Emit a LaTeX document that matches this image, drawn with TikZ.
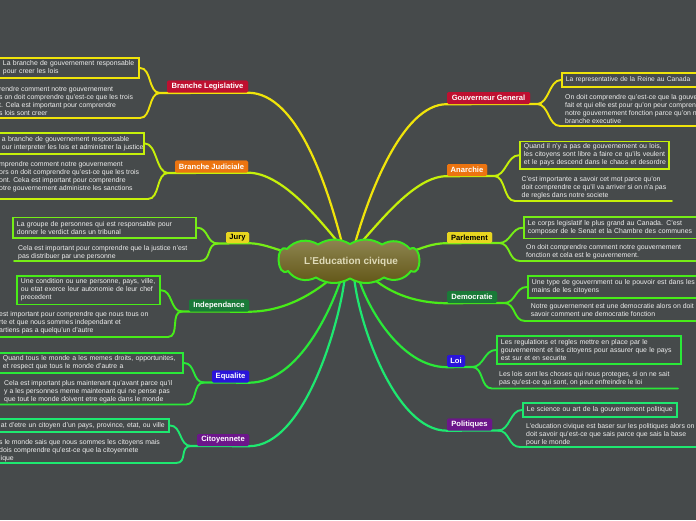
\documentclass[tikz,border=0pt]{standalone}
\usepackage{fontspec}
\setmainfont{Liberation Sans}
\definecolor{bgc}{RGB}{70,74,75}
\definecolor{txc}{RGB}{238,238,238}
\definecolor{cA}{RGB}{240,228,10}
\definecolor{cB}{RGB}{198,240,10}
\definecolor{cC}{RGB}{118,238,22}
\definecolor{cD}{RGB}{72,236,24}
\definecolor{cE}{RGB}{42,232,56}
\definecolor{cF}{RGB}{30,232,112}
\definecolor{fRed}{RGB}{190,16,48}
\definecolor{fOra}{RGB}{236,116,16}
\definecolor{fYel}{RGB}{232,214,32}
\definecolor{fGrn}{RGB}{26,122,56}
\definecolor{fBlu}{RGB}{42,20,218}
\definecolor{fPur}{RGB}{108,22,138}
\definecolor{cloudline}{RGB}{60,232,30}
\definecolor{cloudtop}{RGB}{142,134,82}
\definecolor{cloudbot}{RGB}{98,86,22}
\definecolor{cloudtxt}{RGB}{222,218,184}
\newcommand\lnx[1]{\mbox{#1}}
\tikzset{
  mainline/.style={line width=2.2pt, line cap=round},
  subline/.style={line width=1.9pt, line cap=round},
  lbl/.style={rounded corners=1.5pt, inner xsep=2pt, inner ysep=0pt,
    minimum height=12pt, text=white,
    font=\fontsize{7.6}{8}\selectfont\bfseries},
  sbox/.style={anchor=north west, draw=#1, line width=1.9pt, fill=bgc,
    inner xsep=4pt, inner ysep=0pt, align=left, text=txc,
    font=\fontsize{6.9}{8}\selectfont},
  note/.style={anchor=north west, inner sep=0pt, align=left, text=txc,
    font=\fontsize{6.9}{8}\selectfont},
  puff/.style={bend left=#1},
  sidepuff/.style={bend left=#1, looseness=1.6}
}
\begin{document}
\begin{tikzpicture}[x=1pt,y=-1pt]
\fill[bgc] (0,0) rectangle (696,520);
\useasboundingbox (0,0) rectangle (696,520);
\clip (0,0) rectangle (696,520);

% ---------- cloud anchor coordinates ----------
\coordinate (sBL) at (343,247);
\coordinate (sBJ) at (342,247);
\coordinate (sJu) at (286,252);
\coordinate (sIn) at (334,276);
\coordinate (sEq) at (342,276);
\coordinate (sCi) at (345,276);
\coordinate (sGG) at (354,247);
\coordinate (sAn) at (357,247);
\coordinate (sPa) at (410,252);
\coordinate (sDe) at (370,276);
\coordinate (sLo) at (358,276);
\coordinate (sPo) at (354,276);

% ---------- topic labels (positions) ----------
\path
 node[lbl, fill=fRed, minimum width=81pt] (bl) at (207.5,86.5) {Branche Legislative}
 node[lbl, fill=fOra, minimum width=73pt] (bj) at (211.5,166.5) {Branche Judiciale}
 node[lbl, fill=fYel, text=black, minimum width=23pt, minimum height=11pt] (ju) at (237.5,237.5) {Jury}
 node[lbl, fill=fGrn, minimum width=60pt] (in) at (219,305.5) {Independance}
 node[lbl, fill=fBlu, minimum width=37pt] (eq) at (230.5,376.5) {Equalite}
 node[lbl, fill=fPur, minimum width=52pt] (ci) at (223,440) {Citoyennete}
 node[lbl, fill=fRed, minimum width=83pt] (gg) at (488.5,98) {Gouverneur General}
 node[lbl, fill=fOra, minimum width=40pt] (an) at (467,170) {Anarchie}
 node[lbl, fill=fYel, text=black, minimum width=45pt, minimum height=11pt] (pa) at (469.5,237.5) {Parlement}
 node[lbl, fill=fGrn, minimum width=50pt] (de) at (472,297) {Democratie}
 node[lbl, fill=fBlu, minimum width=18pt] (lo) at (456,361) {Loi}
 node[lbl, fill=fPur, minimum width=45pt] (po) at (469.5,424.5) {Politiques};

% ---------- split points and underline ends ----------
\coordinate (kBL) at (160,93);    \coordinate (uBL) at (140,118);  \coordinate (fBL) at (-5,118);
\coordinate (kBJ) at (168,173);   \coordinate (uBJ) at (148,199);  \coordinate (fBJ) at (-5,199);
\coordinate (kJu) at (218,243.5); \coordinate (uJu) at (200,261);  \coordinate (fJu) at (14,261);
\coordinate (kIn) at (182,311.5); \coordinate (uIn) at (168,337);  \coordinate (fIn) at (-5,337);
\coordinate (kEq) at (204,382.5); \coordinate (uEq) at (186,404.5);\coordinate (fEq) at (-5,404.5);
\coordinate (kCi) at (191,446);   \coordinate (uCi) at (176,463);  \coordinate (fCi) at (-5,463);
\coordinate (kGG) at (537,104);   \coordinate (uGG) at (560,126);  \coordinate (fGG) at (705,126);
\coordinate (kAn) at (494,176);   \coordinate (uAn) at (515,201);  \coordinate (fAn) at (672,201);
\coordinate (kPa) at (499,243);   \coordinate (uPa) at (520,261);  \coordinate (fPa) at (705,261);
\coordinate (kDe) at (504,303);   \coordinate (uDe) at (525,321);  \coordinate (fDe) at (705,321);
\coordinate (kLo) at (472,367);   \coordinate (uLo) at (492,388.5);\coordinate (fLo) at (678,388.5);
\coordinate (kPo) at (498,430.5); \coordinate (uPo) at (520,447);  \coordinate (fPo) at (705,447);

% ---------- boxes ----------
\node[sbox=cA, minimum width=140pt, text width=132pt, minimum height=20pt] (bl1) at (-2,57)
  {\lnx{La branche de gouvernement responsable}\\\lnx{pour creer les lois}};
\node[sbox=cB, minimum width=146pt, text width=138pt, minimum height=21pt] (bj1) at (-3,132)
  {\lnx{a branche de gouvernement responsable}\\\lnx{our interpreter les lois et administrer la justice}};
\node[sbox=cC, minimum width=183pt, text width=175pt, minimum height=20.5pt] (ju1) at (12,216.5)
  {\lnx{La groupe de personnes qui est responsable pour}\\\lnx{donner le verdict dans un tribunal}};
\node[sbox=cD, minimum width=143pt, text width=135pt, minimum height=28.5pt] (in1) at (16,275)
  {\lnx{Une condition ou une personne, pays, ville,}\\\lnx{ou etat exerce leur autonomie de leur chef}\\\lnx{precedent}};
\node[sbox=cE, minimum width=184pt, text width=176pt, minimum height=20pt] (eq1) at (-2,352)
  {\lnx{Quand tous le monde a les memes droits, opportunites,}\\\lnx{et respect que tous le monde d'autre a}};
\node[sbox=cF, minimum width=172pt, text width=164pt, minimum height=13pt] (ci1) at (-4,418)
  {\lnx{at d'etre un citoyen d'un pays, province, etat, ou ville}};
\node[sbox=cA, minimum width=150pt, text width=142pt, minimum height=14pt,
  font=\fontsize{6.7}{8}\selectfont] (gg1) at (561,72)
  {\lnx{La representative de la Reine au Canada}};
\node[sbox=cB, minimum width=149pt, text width=141pt, minimum height=27.5pt] (an1) at (519,140.5)
  {\lnx{Quand il n'y a pas de gouvernement ou lois,}\\\lnx{les citoyens sont libre a faire ce qu'ils veulent}\\\lnx{et le pays descend dans le chaos et desordre}};
\node[sbox=cC, minimum width=173pt, text width=165pt, minimum height=21.5pt] (pa1) at (523,216)
  {\lnx{Le corps legislatif le plus grand au Canada. C'est}\\\lnx{composer de le Senat et la Chambre des communes}};
\node[sbox=cD, minimum width=180pt, text width=172pt, minimum height=22pt] (de1) at (527,275)
  {\lnx{Une type de gouvernment ou le pouvoir est dans les}\\\lnx{mains de les citoyens}};
\node[sbox=cE, minimum width=184pt, text width=176pt, minimum height=28pt] (lo1) at (496,335)
  {\lnx{Les regulations et regles mettre en place par le}\\\lnx{gouvernement et les citoyens pour assurer que le pays}\\\lnx{est sur et en securite}};
\node[sbox=cF, minimum width=154pt, text width=146pt, minimum height=14pt] (po1) at (522,402)
  {\lnx{Le science ou art de la gouvernement politique}};

% ---------- connectors ----------
\draw[mainline, cA] (kBL) -- (bl.south east) .. controls (298,93) and (328,188) .. (sBL);
\draw[mainline, cB] (kBJ) -- (bj.south east) .. controls (282,173) and (318,218) .. (sBJ);
\draw[mainline, cC] (kJu) -- (ju.south east) .. controls (262,243.5) and (272,248) .. (sJu);
\draw[mainline, cD] (kIn) -- (in.south east) .. controls (288,311.5) and (318,290) .. (sIn);
\draw[mainline, cE] (kEq) -- (eq.south east) .. controls (300,382.5) and (333,305) .. (sEq);
\draw[mainline, cF] (kCi) -- (ci.south east) .. controls (305,446) and (340,322) .. (sCi);
\draw[mainline, cA] (kGG) -- (gg.south west) .. controls (402,104) and (368,196) .. (sGG);
\draw[mainline, cB] (kAn) -- (an.south west) .. controls (415,176) and (380,222) .. (sAn);
\draw[mainline, cC] (kPa) -- (pa.south west) .. controls (432,243) and (420,249) .. (sPa);
\draw[mainline, cD] (kDe) -- (de.south west) .. controls (410,303) and (386,290) .. (sDe);
\draw[mainline, cE] (kLo) -- (lo.south west) .. controls (400,367) and (366,305) .. (sLo);
\draw[mainline, cF] (kPo) -- (po.south west) .. controls (395,430.5) and (358,322) .. (sPo);

\foreach \k/\b/\c in {BL/bl1/cA, BJ/bj1/cB, Ju/ju1/cC, In/in1/cD, Eq/eq1/cE, Ci/ci1/cF}{
  \draw[subline, \c] (k\k) .. controls +(-12,0) and +(12,0) .. (\b.east);
  \draw[subline, \c] (k\k) .. controls +(-12,0) and +(12,0) .. (u\k) -- (f\k);
}
\foreach \k/\b/\c in {GG/gg1/cA, An/an1/cB, Pa/pa1/cC, De/de1/cD, Lo/lo1/cE, Po/po1/cF}{
  \draw[subline, \c] (k\k) .. controls +(12,0) and +(-12,0) .. (\b.west);
  \draw[subline, \c] (k\k) .. controls +(12,0) and +(-12,0) .. (u\k) -- (f\k);
}

% redraw labels on top of lines
\path
 node[lbl, fill=fRed, minimum width=81pt] at (bl) {Branche Legislative}
 node[lbl, fill=fOra, minimum width=73pt] at (bj) {Branche Judiciale}
 node[lbl, fill=fYel, text=black, minimum width=23pt, minimum height=11pt] at (ju) {Jury}
 node[lbl, fill=fGrn, minimum width=60pt] at (in) {Independance}
 node[lbl, fill=fBlu, minimum width=37pt] at (eq) {Equalite}
 node[lbl, fill=fPur, minimum width=52pt] at (ci) {Citoyennete}
 node[lbl, fill=fRed, minimum width=83pt] at (gg) {Gouverneur General}
 node[lbl, fill=fOra, minimum width=40pt] at (an) {Anarchie}
 node[lbl, fill=fYel, text=black, minimum width=45pt, minimum height=11pt] at (pa) {Parlement}
 node[lbl, fill=fGrn, minimum width=50pt] at (de) {Democratie}
 node[lbl, fill=fBlu, minimum width=18pt] at (lo) {Loi}
 node[lbl, fill=fPur, minimum width=45pt] at (po) {Politiques};

% ---------- notes ----------
\node[note] (bl2) at (-1,86.5) {rendre comment notre gouvernement\\s on doit comprendre qu'est-ce que les trois\\t. Cela est important pour comprendre\\s lois sont creer};
\node[note] (bj2) at (-1,160.8) {mprendre comment notre gouvernement\\ors on doit comprendre qu'est-ce que les trois\\ont. Ceka est important pour comprendre\\otre gouvernement administre les sanctions};
\node[note] (ju2) at (18,245.2) {Cela est important pour comprendre que la justice n'est\\pas distribuer par une personne};
\node[note] (in2) at (-1,311.5) {est important pour comprendre que nous tous on\\rte et que nous sommes independant et\\artiens pas a quelqu'un d'autre};
\node[note] (eq2) at (4,380.5) {Cela est important plus maintenant qu'avant parce qu'il\\y a les personnes meme maintenant qui ne pense pas\\que tout le monde doivent etre egale dans le monde};
\node[note] (ci2) at (-1,439.5) {s le monde sais que nous sommes les citoyens mais\\dois comprendre qu'est-ce que la citoyennete\\lique};
\node[note] (gg2) at (565,94.5) {On doit comprendre qu'est-ce que la gouver\\fait et qui elle est pour qu'on peur compren\\notre gouvernement fonction parce qu'on n\\branche executive};
\node[note] (an2) at (521.5,176.5) {C'est importante a savoir cet mot parce qu'on\\doit comprendre ce qu'il va arriver si on n'a pas\\de regles dans notre societe};
\node[note] (pa2) at (526,244.2) {On doit comprendre comment notre gouvernement\\fonction et cela est le gouvernement.};
\node[note] (de2) at (530.7,303.5) {Notre gouvernement est une democratie alors on doit\\savoir comment une democratie fonction};
\node[note] (lo2) at (499,371.5) {Les lois sont les choses qui nous proteges, si on ne sait\\pas qu'est-ce qui sont, on peut enfreindre le loi};
\node[note] (po2) at (526,423.2) {L'education civique est baser sur les politiques alors on\\doit savoir qu'est-ce que sais parce que sais la base\\pour le monde};

% ---------- central cloud ----------
\draw[draw=cloudline, line width=2pt, top color=cloudtop, bottom color=cloudbot]
  (287,249) to[puff=40] (318,244.5) to[puff=30] (350,244) to[puff=30] (382,244.5)
  to[puff=40] (410,249) to[sidepuff=120] (411,271) to[puff=40] (384,277.5)
  to[puff=30] (350,278.5) to[puff=30] (316,277.5) to[puff=40] (288,271)
  to[sidepuff=120] cycle;
\node[inner sep=0pt, text=cloudtxt, font=\fontsize{10}{11}\selectfont\bfseries]
  (ctr) at (351,261.5) {L'Education civique};
\end{tikzpicture}
\end{document}
